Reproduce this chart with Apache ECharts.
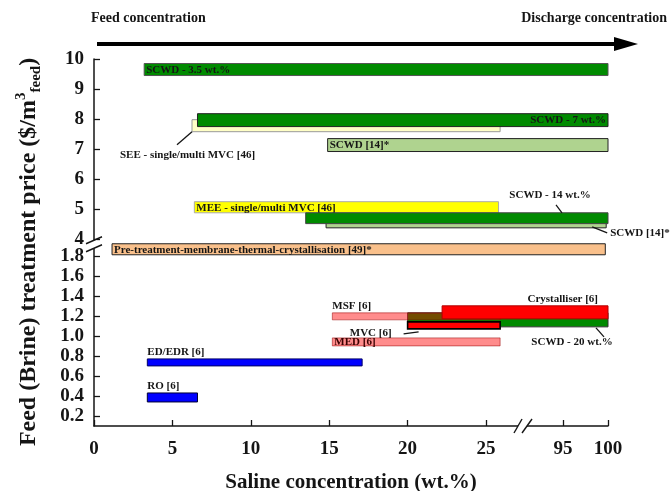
<!DOCTYPE html>
<html>
<head>
<meta charset="utf-8">
<script src="https://cdn.jsdelivr.net/npm/echarts@6/dist/echarts.min.js"></script>
<style>
  html, body { margin: 0; padding: 0; background: #fff; }
  #chart { width: 670px; height: 491px; }
</style>
</head>
<body>
<div id="chart"></div>
<script>
// Treatment routes: concentration span (wt.%) and price band ($/m3 feed), listed back to front
const routes = [
  'SCWD - 3.5 wt.%',
  'SEE - single/multi MVC [46]',
  'SCWD - 7 wt.%',
  'SCWD [14]*',
  'MEE - single/multi MVC [46]',
  'SCWD [14]*',
  'SCWD - 14 wt.%',
  'Pre-treatment-membrane-thermal-crystallisation [49]*',
  'SCWD - 20 wt.%',
  'MSF [6]',
  'Crystalliser [6]',
  'MVC [6]',
  'MED [6]',
  'ED/EDR [6]',
  'RO [6]'
];
const wtFrom    = [3.2, 6.25, 6.6, 14.9, 6.4, 14.8, 13.5, 1.15, 20.0, 15.2, 22.2, 20.0, 15.2, 3.4, 3.4];
const wtTo      = [100, 25.9, 100, 100, 25.8, 99.8, 100, 99.7, 100, 25.9, 100, 25.9, 25.9, 17.1, 6.6];
const priceLow  = [9.45, 7.58, 7.75, 6.92, 4.88, 4.38, 4.52, 1.81, 1.09, 1.16, 1.17, 1.07, 0.90, 0.70, 0.34];
const priceHigh = [9.85, 7.98, 8.18, 7.35, 5.25, 4.80, 4.88, 1.92, 1.23, 1.23, 1.30, 1.14, 0.98, 0.77, 0.43];

// Axis tick labels
const xTickValues = [0, 5, 10, 15, 20, 25, 95, 100];
const yTickValuesLow = [0.2, 0.4, 0.6, 0.8, 1.0, 1.2, 1.4, 1.6, 1.8];
const yTickValuesHigh = [4, 5, 6, 7, 8, 9, 10];

// Broken axes: the 95-100 wt.% segment and the 4-10 $/m3 segment are compressed
const X_SPLIT = 27, X_HI_AT95 = 29.91, X_HI_SCALE = 0.574;
const Y_SPLIT = 3, Y_HI_AT4 = 1.965, Y_HI_SCALE = 0.3, Y_SPLIT_POS = 1.95;
const xPos = v => v <= X_SPLIT ? v : X_HI_AT95 + (v - 95) * X_HI_SCALE;
const xVal = d => d <= X_SPLIT ? d : 95 + (d - X_HI_AT95) / X_HI_SCALE;
const yPos = v => v <= Y_SPLIT ? v : Y_HI_AT4 + (v - 4) * Y_HI_SCALE;
const yVal = d => d < Y_SPLIT_POS ? d : 4 + (d - Y_HI_AT4) / Y_HI_SCALE;

const SERIF = '"Liberation Serif", "Times New Roman", serif';
const INK = '#151515';
const GREEN = '#008a00', LIGHT_GREEN = '#afd38f', PINK = 'rgba(255,0,0,0.45)';

// Fill, outline and label placement of each bar (same order as routes)
const barLook = [
  { fill: GREEN, stroke: '#555', label: { mode: 'inLeft' } },
  { fill: '#ffffc6', stroke: '#999', label: { mode: 'callout', corner: 'lb', line: [[0, 0], [-15, 13]], at: [-72, 23], align: 'left' } },
  { fill: GREEN, stroke: '#222', label: { mode: 'inRight' } },
  { fill: LIGHT_GREEN, stroke: '#222', label: { mode: 'inLeft' } },
  { fill: '#ffff00', stroke: '#aaa', label: { mode: 'inLeft' } },
  { fill: LIGHT_GREEN, stroke: '#222', label: { mode: 'callout', corner: 'rb', line: [[-14, -1], [1, 5]], at: [4, 5], align: 'left' } },
  { fill: GREEN, stroke: '#444', label: { mode: 'callout', corner: 'rt', line: [[-46, 0], [-52, -8]], at: [-58, -18], align: 'center' } },
  { fill: '#f9c08b', stroke: '#222', label: { mode: 'inLeft' } },
  { fill: GREEN, stroke: '#333', label: { mode: 'callout', corner: 'rb', line: [[-12, 1], [-4, 10]], at: [-36, 15], align: 'center' } },
  { fill: PINK, stroke: 'rgba(150,0,0,0.5)', label: { mode: 'aboveLeft' } },
  { fill: '#ff0000', stroke: '#b00000', label: { mode: 'aboveRight' } },
  { fill: '#ff0000', stroke: '#000', lineWidth: 1.6, label: { mode: 'callout', corner: 'lb', line: [[-4, 5], [11, 3]], at: [-16, 4], align: 'right' } },
  { fill: PINK, stroke: 'rgba(150,0,0,0.5)', label: { mode: 'inLeft', color: '#3a0000' } },
  { fill: '#0000ff', stroke: '#000066', label: { mode: 'aboveLeft' } },
  { fill: '#0000ff', stroke: '#000033', label: { mode: 'aboveLeft' } }
];

const barData = routes.map((name, i) => ({
  name,
  value: [xPos(wtFrom[i]), xPos(wtTo[i]), yPos(priceLow[i]), yPos(priceHigh[i])]
}));

const LABEL_FONT = { fontFamily: SERIF, fontWeight: 'bold', fontSize: 11 };

function renderBar(params, api) {
  const i = params.dataIndex;
  const look = barLook[i];
  const tl = api.coord([api.value(0), api.value(3)]);
  const br = api.coord([api.value(1), api.value(2)]);
  const r = { x: tl[0], y: tl[1], width: br[0] - tl[0], height: br[1] - tl[1] };
  const children = [{
    type: 'rect',
    shape: r,
    style: { fill: look.fill, stroke: look.stroke, lineWidth: look.lineWidth || 1 }
  }];
  const lab = look.label;
  const txt = Object.assign({ text: routes[i], fill: lab.color || INK }, LABEL_FONT);
  const midY = r.y + r.height / 2;
  if (lab.mode === 'inLeft') {
    Object.assign(txt, { x: r.x + 2, y: midY + 0.5, align: 'left', verticalAlign: 'middle' });
  } else if (lab.mode === 'inRight') {
    Object.assign(txt, { x: r.x + r.width - 2, y: midY + 0.5, align: 'right', verticalAlign: 'middle' });
  } else if (lab.mode === 'aboveLeft') {
    Object.assign(txt, { x: r.x, y: r.y - 1, align: 'left', verticalAlign: 'bottom' });
  } else if (lab.mode === 'aboveRight') {
    Object.assign(txt, { x: r.x + r.width - 10, y: r.y - 1, align: 'right', verticalAlign: 'bottom' });
  } else {
    const cx = lab.corner[0] === 'l' ? r.x : r.x + r.width;
    const cy = lab.corner[1] === 't' ? r.y : r.y + r.height;
    children.push({
      type: 'polyline',
      shape: { points: lab.line.map(p => [cx + p[0], cy + p[1]]) },
      style: { stroke: INK, lineWidth: 1.3, fill: null }
    });
    Object.assign(txt, { x: cx + lab.at[0], y: cy + lab.at[1], align: lab.align, verticalAlign: 'middle' });
  }
  children.push({ type: 'text', style: txt });
  return { type: 'group', children };
}

const tickFont = { fontFamily: SERIF, fontWeight: 'bold', fontSize: 19, color: INK };
const yTickPositions = yTickValuesLow.map(yPos).concat(yTickValuesHigh.map(yPos));

const option = {
  animation: false,
  backgroundColor: '#fff',
  grid: { left: 94, right: 62, top: 59, bottom: 65, containLabel: false, outerBoundsMode: 'none' },
  xAxis: {
    type: 'value',
    min: 0,
    max: xPos(100),
    splitLine: { show: false },
    axisLine: { lineStyle: { color: INK, width: 1.5 } },
    axisTick: { inside: true, length: 6, lineStyle: { color: INK, width: 1.3 }, customValues: xTickValues.map(xPos) },
    axisLabel: Object.assign({ margin: 14, customValues: xTickValues.map(xPos),
      formatter: d => String(Math.round(xVal(d))) }, tickFont),
    name: 'Saline concentration (wt.%)',
    nameLocation: 'middle',
    nameGap: 46,
    nameTextStyle: { fontFamily: SERIF, fontWeight: 'bold', fontSize: 21, color: INK }
  },
  yAxis: {
    type: 'value',
    min: 0.1,
    max: yPos(10),
    splitLine: { show: false },
    axisLine: { lineStyle: { color: INK, width: 1.5 } },
    axisTick: { inside: true, length: 6, lineStyle: { color: INK, width: 1.3 }, customValues: yTickPositions },
    axisLabel: Object.assign({ margin: 10, customValues: yTickPositions,
      formatter: d => d < Y_SPLIT_POS ? d.toFixed(1) : String(Math.round(yVal(d))) }, tickFont)
  },
  series: [{
    type: 'custom',
    clip: false,
    renderItem: renderBar,
    encode: { x: [0, 1], y: [2, 3] },
    data: barData
  }]
};

const chart = echarts.init(document.getElementById('chart'), null, { renderer: 'canvas' });
chart.setOption(option);

// Break marks on both axes, placed at the split points of the scales
const yb = chart.convertToPixel({ gridIndex: 0 }, [0, 1.91]);
const xb = chart.convertToPixel({ gridIndex: 0 }, [27.36, 0.1]);
const slash = (x1, y1, x2, y2) => ({
  type: 'line', z: 101, shape: { x1, y1, x2, y2 }, style: { stroke: INK, lineWidth: 1.4 }
});

chart.setOption({
  graphic: [
    { type: 'rect', z: 100, shape: { x: yb[0] - 3, y: yb[1] - 4.5, width: 6, height: 8 }, style: { fill: '#fff' } },
    slash(yb[0] - 8, yb[1] - 1, yb[0] + 8, yb[1] - 8),
    slash(yb[0] - 8, yb[1] + 7, yb[0] + 8, yb[1]),
    { type: 'rect', z: 100, shape: { x: xb[0] - 5, y: xb[1] - 3, width: 9, height: 6 }, style: { fill: '#fff' } },
    slash(xb[0] - 9, xb[1] + 7, xb[0] - 1, xb[1] - 7),
    slash(xb[0] - 1, xb[1] + 7, xb[0] + 9, xb[1] - 7),
    // Direction of increasing salinity
    { type: 'line', shape: { x1: 97, y1: 44, x2: 618, y2: 44 }, style: { stroke: '#000', lineWidth: 4 } },
    { type: 'polygon', shape: { points: [[614, 37], [638, 44], [614, 51]] }, style: { fill: '#000' } },
    { type: 'text', x: 91, y: 18, style: { text: 'Feed concentration', fontFamily: SERIF, fontWeight: 'bold', fontSize: 14, fill: INK, verticalAlign: 'middle' } },
    { type: 'text', x: 667, y: 18, style: { text: 'Discharge concentration', fontFamily: SERIF, fontWeight: 'bold', fontSize: 14, fill: INK, align: 'right', verticalAlign: 'middle' } },
    // Price axis title with superscript and subscript
    {
      type: 'text', x: 29, y: 252, rotation: Math.PI / 2,
      style: {
        text: '{a|Feed (Brine) treatment price ($/m}{sup|3}{sub|feed}{a|)}',
        align: 'center', verticalAlign: 'middle', fill: INK,
        rich: {
          a: { fontFamily: SERIF, fontWeight: 'bold', fontSize: 24, lineHeight: 30, fill: INK, verticalAlign: 'middle' },
          sup: { fontFamily: SERIF, fontWeight: 'bold', fontSize: 15, lineHeight: 30, fill: INK, verticalAlign: 'top' },
          sub: { fontFamily: SERIF, fontWeight: 'bold', fontSize: 15, lineHeight: 30, fill: INK, verticalAlign: 'bottom' }
        }
      }
    }
  ]
});
</script>
</body>
</html>
